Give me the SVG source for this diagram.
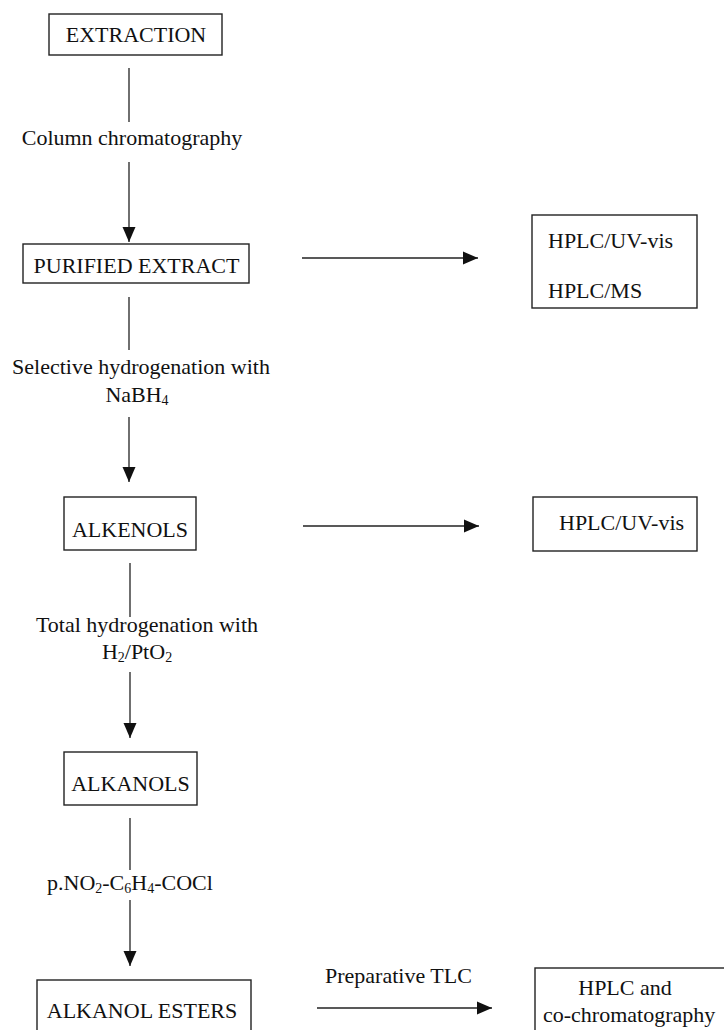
<svg xmlns="http://www.w3.org/2000/svg" width="724" height="1030" viewBox="0 0 724 1030">
<style>
  text { font-family: "Liberation Serif", "Times New Roman", serif; font-size: 22px; fill: #111; }
  .box { fill: #fff; stroke: #222; stroke-width: 1.4; }
  .ln { stroke: #222; stroke-width: 1.3; fill: none; }
  .c { text-anchor: middle; }
</style>
<defs>
  <marker id="ah" markerUnits="userSpaceOnUse" markerWidth="16" markerHeight="16" viewBox="0 0 16 16" refX="15" refY="8" orient="auto">
    <path d="M0,1.5 L15,8 L0,14.5 Z" fill="#111"/>
  </marker>
</defs>

<g id="connectors">
  <line class="ln" x1="129" y1="68" x2="129" y2="122"/>
  <line class="ln" x1="129" y1="162" x2="129" y2="242" marker-end="url(#ah)"/>
  <line class="ln" x1="129" y1="297" x2="129" y2="350"/>
  <line class="ln" x1="129" y1="417" x2="129" y2="482" marker-end="url(#ah)"/>
  <line class="ln" x1="130" y1="563" x2="130" y2="617"/>
  <line class="ln" x1="130" y1="672" x2="130" y2="738" marker-end="url(#ah)"/>
  <line class="ln" x1="130" y1="818" x2="130" y2="870"/>
  <line class="ln" x1="130" y1="900" x2="130" y2="966" marker-end="url(#ah)"/>
  <line class="ln" x1="302" y1="258" x2="478" y2="258" marker-end="url(#ah)"/>
  <line class="ln" x1="303" y1="526" x2="479" y2="526" marker-end="url(#ah)"/>
  <line class="ln" x1="317" y1="1008" x2="492" y2="1008" marker-end="url(#ah)"/>
  <text class="c" x="132" y="145">Column chromatography</text>
  <text class="c" x="141" y="374">Selective hydrogenation with</text>
  <text class="c" x="137" y="402">NaBH<tspan font-size="14" dy="3">4</tspan></text>
  <text class="c" x="147" y="632">Total hydrogenation with</text>
  <text class="c" x="137" y="659">H<tspan font-size="14" dy="3">2</tspan><tspan dy="-3">/PtO</tspan><tspan font-size="14" dy="3">2</tspan></text>
  <text x="47" y="890">p.NO<tspan font-size="14" dy="3">2</tspan><tspan dy="-3">-C</tspan><tspan font-size="14" dy="3">6</tspan><tspan dy="-3">H</tspan><tspan font-size="14" dy="3">4</tspan><tspan dy="-3">-COCl</tspan></text>
  <text x="325" y="983">Preparative TLC</text>
</g>

<g id="extraction">
  <rect class="box" x="49" y="14" width="173" height="41"/>
  <text class="c" x="136" y="42">EXTRACTION</text>
</g>
<g id="purified-extract">
  <rect class="box" x="23" y="244" width="226" height="39"/>
  <text class="c" x="136.5" y="273">PURIFIED EXTRACT</text>
</g>
<g id="alkenols">
  <rect class="box" x="64" y="497" width="132" height="53"/>
  <text class="c" x="130" y="537">ALKENOLS</text>
</g>
<g id="alkanols">
  <rect class="box" x="64" y="752" width="133" height="53"/>
  <text class="c" x="130.5" y="791">ALKANOLS</text>
</g>
<g id="alkanol-esters">
  <rect class="box" x="37" y="980" width="214" height="60"/>
  <text class="c" x="142" y="1018">ALKANOL ESTERS</text>
</g>
<g id="hplc-uv-ms">
  <rect class="box" x="532" y="215" width="165" height="93"/>
  <text x="548" y="248">HPLC/UV-vis</text>
  <text x="548" y="298">HPLC/MS</text>
</g>
<g id="hplc-uv">
  <rect class="box" x="533" y="497" width="164" height="54"/>
  <text x="559" y="530">HPLC/UV-vis</text>
</g>
<g id="hplc-cochrom">
  <rect class="box" x="535" y="968" width="200" height="72"/>
  <text class="c" x="625" y="995">HPLC and</text>
  <text x="543" y="1022">co-chromatography</text>
</g>
</svg>
